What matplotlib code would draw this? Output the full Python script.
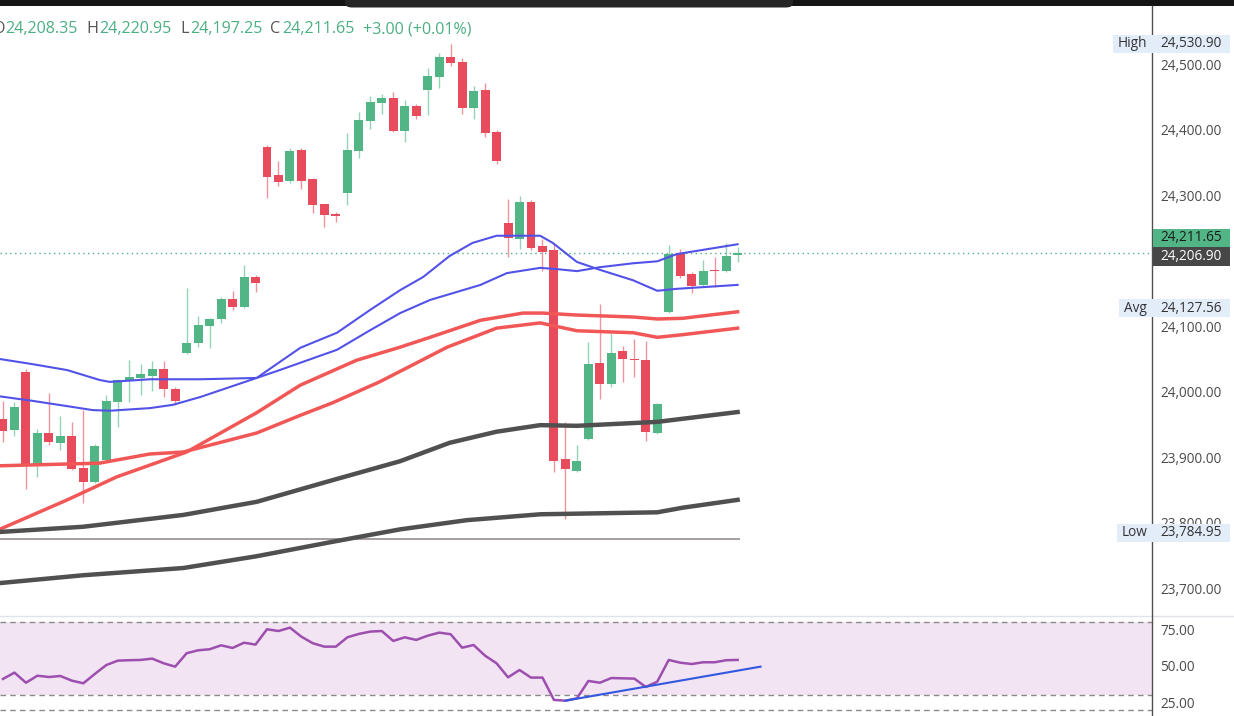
import numpy as np
import matplotlib
matplotlib.use('Agg')
import matplotlib.pyplot as plt
from matplotlib.patches import Rectangle, FancyBboxPatch
from matplotlib.lines import Line2D
from matplotlib import transforms
from matplotlib.ticker import FuncFormatter

plt.rcParams['font.family'] = ['Open Sans', 'DejaVu Sans']

# OHLC of the visible bars (left to right)
opens = [23958, 23942, 24030, 23887, 23937, 23922, 23932, 23884, 23862, 23896,
         23984, 24016, 24021, 24024, 24035, 24004, 24059, 24074, 24100, 24111,
         24141, 24129, 24175, 24373, 24331, 24322, 24369, 24325, 24286, 24271,
         24303, 24367, 24413, 24440, 24448, 24398, 24436, 24460, 24480, 24511,
         24503, 24433, 24460, 24396, 24257, 24233, 24289, 24222, 24216, 23897,
         23879, 23928, 24044, 24012, 24062, 24050, 24048, 23937, 24122, 24212,
         24180, 24163, 24186, 24184, 24208.35]
highs = [23986, 23984, 24035, 23943, 23998, 23963, 23954, 23972, 23920, 23995,
         24020, 24048, 24042, 24047, 24047, 24007, 24158, 24115, 24112, 24145,
         24154, 24193, 24178, 24376, 24352, 24372, 24372, 24326, 24286, 24274,
         24395, 24427, 24451, 24454, 24457, 24445, 24439, 24494, 24517, 24530.9,
         24509, 24466, 24471, 24399, 24294, 24299, 24293, 24233, 24227, 23954,
         23919, 24076, 24134, 24090, 24070, 24080, 24077, 23983, 24224, 24218,
         24183, 24201, 24206, 24227, 24220.95]
lows = [23923, 23932, 23852, 23870, 23919, 23911, 23880, 23830, 23860, 23894,
        23946, 23984, 23995, 24001, 23992, 23980, 24058, 24068, 24067, 24105,
        24125, 24127, 24152, 24296, 24314, 24318, 24309, 24273, 24251, 24259,
        24285, 24357, 24401, 24424, 24397, 24381, 24416, 24422, 24463, 24497,
        24424, 24416, 24389, 24347, 24206, 24218, 24216, 24184, 23878, 23806,
        23878, 23927, 23989, 24007, 24015, 24022, 23925, 23936, 24120, 24174,
        24151, 24162, 24160, 24183, 24197.25]
closes = [23940, 23977, 23887, 23937, 23923, 23932, 23882, 23862, 23917, 23986,
          24018, 24022, 24027, 24035, 24004, 23986, 24074, 24102, 24111, 24141,
          24129, 24175, 24166, 24328, 24320, 24367, 24322, 24285, 24270, 24268,
          24369, 24415, 24442, 24448, 24398, 24436, 24421, 24482, 24511, 24502,
          24433, 24459, 24395, 24352, 24235, 24289, 24219, 24213, 23894, 23882,
          23894, 24042, 24012, 24059, 24050, 24048, 23939, 23981, 24210, 24177,
          24161, 24184, 24184, 24207, 24211.65]

rsi = [41.0, 45.3, 38.4, 43.2, 42.3, 43.0, 39.8, 38.0, 44.4, 50.5,
       53.5, 53.8, 54.0, 54.9, 51.7, 49.4, 58.6, 60.6, 61.3, 64.0,
       62.2, 65.8, 64.5, 75.0, 73.8, 76.1, 69.9, 65.4, 63.1, 63.1,
       69.5, 71.8, 73.4, 73.8, 67.0, 69.5, 67.7, 70.6, 72.7, 71.6,
       62.4, 64.2, 56.9, 51.7, 42.1, 47.1, 41.9, 41.9, 26.6, 26.1,
       27.7, 39.6, 38.4, 41.6, 41.4, 41.2, 35.5, 39.1, 54.0, 52.1,
       51.2, 52.4, 52.4, 53.8, 54.0]
rsi_trend_x = [49, 66]
rsi_trend = [26.1, 49.4]

# moving averages, read at bar positions
fast_blue_x = [-0.3, 2.6, 5.6, 7.8, 9.3, 12.8, 14.8, 17.2, 22.1, 25.9, 29.1, 32.0, 34.6,
               36.6, 38.9, 40.9, 43.0, 46.8, 47.9, 50.0, 52.0, 54.9, 57.0, 58.7, 64.0]
fast_blue = [23993, 23986, 23978, 23972, 23971, 23975, 23980, 23992, 24021, 24067, 24090,
             24125, 24155, 24175, 24207, 24227, 24238, 24238, 24227, 24198, 24186, 24170,
             24154, 24157, 24163]
slow_blue_x = [-0.3, 2.6, 5.6, 8.4, 9.3, 12.8, 17.2, 22.1, 24.1, 29.1, 32.0, 34.6, 37.2,
               41.6, 43.9, 46.8, 48.3, 50.0, 52.0, 54.9, 57.0, 58.7, 64.0]
slow_blue = [24050, 24042, 24033, 24018, 24015, 24019, 24019, 24021, 24033, 24064, 24094,
             24120, 24140, 24163, 24181, 24189, 24187, 24184, 24190, 24196, 24199, 24210,
             24225]
red1_x = [-0.3, 8.4, 12.8, 15.7, 22.1, 25.9, 28.7, 32.8, 35.7, 38.7, 43.0, 46.8, 50.0,
          54.9, 57.0, 59.2, 64.0]
red1 = [23887, 23891, 23905, 23908, 23937, 23964, 23983, 24015, 24041, 24068, 24097,
        24105, 24093, 24090, 24083, 24087, 24097]
red2_x = [-0.3, 5.6, 9.9, 16.0, 22.1, 25.9, 30.8, 34.6, 37.2, 41.6, 45.3, 47.0, 50.0,
          54.9, 57.0, 59.2, 64.0]
red2 = [23790, 23835, 23870, 23908, 23968, 24010, 24048, 24068, 24083, 24109, 24120,
        24120, 24117, 24114, 24111, 24112, 24122]
gray1_x = [-0.3, 7.0, 15.7, 22.1, 28.7, 34.6, 38.9, 43.0, 46.8, 50.0, 57.0, 64.0]
gray1 = [23786, 23794, 23812, 23832, 23865, 23894, 23922, 23939, 23949, 23948, 23954, 23969]
gray2_x = [-0.3, 7.0, 15.7, 22.1, 28.7, 34.6, 40.4, 46.8, 57.0, 59.2, 64.0]
gray2 = [23708, 23720, 23731, 23749, 23771, 23790, 23804, 23813, 23816, 23823, 23835]

level_line = 23775
price_ticks = [23700, 23800, 23900, 24000, 24100, 24300, 24400, 24500]
rsi_ticks = [25, 50, 75]
day_high, day_low, day_avg = 24530.90, 23784.95, 24127.56
last_close, last_mark = 24211.65, 24206.90

GREEN = '#52b586'
RED = '#e84c5c'
TXT = '#4a4a4a'

W, H = 1234, 716
fig = plt.figure(figsize=(W / 100, H / 100), dpi=100)
ax = fig.add_axes([0, 100 / H, 1152 / W, 616 / H])
ax_rsi = fig.add_axes([0, 0, 1152 / W, 99 / H])

n = len(opens)
x = np.arange(n)
o = np.array(opens); c = np.array(closes)
up = c >= o
cols = np.where(up, GREEN, RED)
body_lo = np.minimum(o, c)
body_h = np.maximum(np.abs(c - o), 1.6)

ax.vlines(x, lows, highs, colors=cols, lw=1, alpha=0.6, zorder=3)
ax.bar(x, body_h, bottom=body_lo, width=0.78, color=cols, zorder=4)

ax.plot(fast_blue_x, fast_blue, color='#5252e8', lw=1.5, zorder=5)
ax.plot(slow_blue_x, slow_blue, color='#5252e8', lw=1.5, zorder=5)
ax.plot(red1_x, red1, color='#f25757', lw=2.5, zorder=5)
ax.plot(red2_x, red2, color='#f25757', lw=2.5, zorder=5)
ax.plot(gray1_x, gray1, color='#505050', lw=3.2, zorder=5)
ax.plot(gray2_x, gray2, color='#505050', lw=3.2, zorder=5)
ax.hlines(level_line, -0.3, 64.2, color='#a59d9e', lw=1.4, zorder=2)
ax.axhline(last_close, color='#4caf82', lw=1, ls=(0, (1, 2.5)), zorder=2)

ax.set_xlim(-0.26, 100.1)
ax.set_ylim(23657.8, 24597.7)
ax.yaxis.tick_right()
ax.set_yticks(price_ticks)
ax.yaxis.set_major_formatter(FuncFormatter(lambda v, p: '{:,.2f}'.format(v)))
ax.tick_params(axis='y', length=0, pad=6, labelsize=9.8, labelcolor=TXT)
ax.set_xticks([])
for s in ax.spines.values():
    s.set_visible(False)

# RSI panel
ax_rsi.axhspan(30, 80, color='#f2e4f3', lw=0, zorder=0)
for lv in (80, 30, 20):
    ax_rsi.axhline(lv, color='#8a8a8a', lw=1, ls=(0, (4, 3)), zorder=1)
ax_rsi.plot(x, rsi, color='#9c4fae', lw=1.8, zorder=3)
ax_rsi.plot(rsi_trend_x, rsi_trend, color='#3358e0', lw=1.5, zorder=4)
ax_rsi.set_xlim(-0.26, 100.1)
ax_rsi.set_ylim(15.6, 83.4)
ax_rsi.yaxis.tick_right()
ax_rsi.set_yticks(rsi_ticks)
ax_rsi.yaxis.set_major_formatter(FuncFormatter(lambda v, p: '{:.2f}'.format(v)))
ax_rsi.tick_params(axis='y', length=0, pad=6, labelsize=9.8, labelcolor=TXT)
ax_rsi.set_xticks([])
for s in ax_rsi.spines.values():
    s.set_visible(False)

# frame bits
fig.add_artist(Line2D([0, 1], [100 / H, 100 / H], color='#e0e3e8', lw=1))
fig.add_artist(Line2D([1152 / W, 1152 / W], [0, 1 - 6 / H], color='#505050', lw=1))
fig.add_artist(Rectangle((0, 1 - 6 / H), 1, 6 / H, transform=fig.transFigure,
                         color='#141414', lw=0))
fig.add_artist(FancyBboxPatch((345 / W, 1 - 7.5 / H), 448 / W, 12 / H,
                              boxstyle='round,pad=0,rounding_size=0.006',
                              transform=fig.transFigure, fc='#262626', ec='none'))

# price level boxes on the scale
tr = transforms.blended_transform_factory(fig.transFigure, ax.transData)
box_h = 27


def level_box(val, name, x0):
    fig.add_artist(Rectangle((x0 / W, val - box_h / 2), (1230 - x0) / W, box_h,
                             transform=tr, fc='#e3edfa', ec='none', zorder=3))
    fig.text(1147 / W, val, name, transform=tr, ha='right', va='center',
             fontsize=9.8, color='#333333', zorder=4)
    fig.text(1160 / W, val, '{:,.2f}'.format(val), transform=tr, ha='left',
             va='center', fontsize=9.8, color='#333333', zorder=4)


level_box(day_high, 'High', 1113)
level_box(day_avg, 'Avg', 1119)
level_box(day_low, 'Low', 1117)

green_c = last_mark + box_h + 1
fig.add_artist(Rectangle((1153 / W, green_c - box_h / 2), 77 / W, box_h, transform=tr,
                         fc=GREEN, ec='none', zorder=3))
fig.text(1160 / W, green_c, '{:,.2f}'.format(last_close), transform=tr, ha='left',
         va='center', fontsize=9.8, color='#1a1a1a', zorder=4)
fig.add_artist(Rectangle((1153 / W, last_mark - box_h / 2 - 1), 77 / W, box_h + 1,
                         transform=tr, fc='#474747', ec='none', zorder=3))
fig.text(1160 / W, last_mark - 1, '{:,.2f}'.format(last_mark), transform=tr, ha='left',
         va='center', fontsize=9.8, color='white', zorder=4)

# OHLC header
hdr = [(-7, 'O', '#555555'), (5, '24,208.35', '#4caf82'), (86, 'H', '#555555'),
       (99, '24,220.95', '#4caf82'), (180, 'L', '#555555'), (190, '24,197.25', '#4caf82'),
       (270, 'C', '#555555'), (282, '24,211.65', '#4caf82'),
       (363, '+3.00 (+0.01%)', '#4caf82')]
for hx, s, col in hdr:
    fig.text(hx / W, 1 - 33 / H, s, ha='left', va='baseline', fontsize=11.6, color=col)

fig.savefig('out.png', dpi=100, facecolor='white')
